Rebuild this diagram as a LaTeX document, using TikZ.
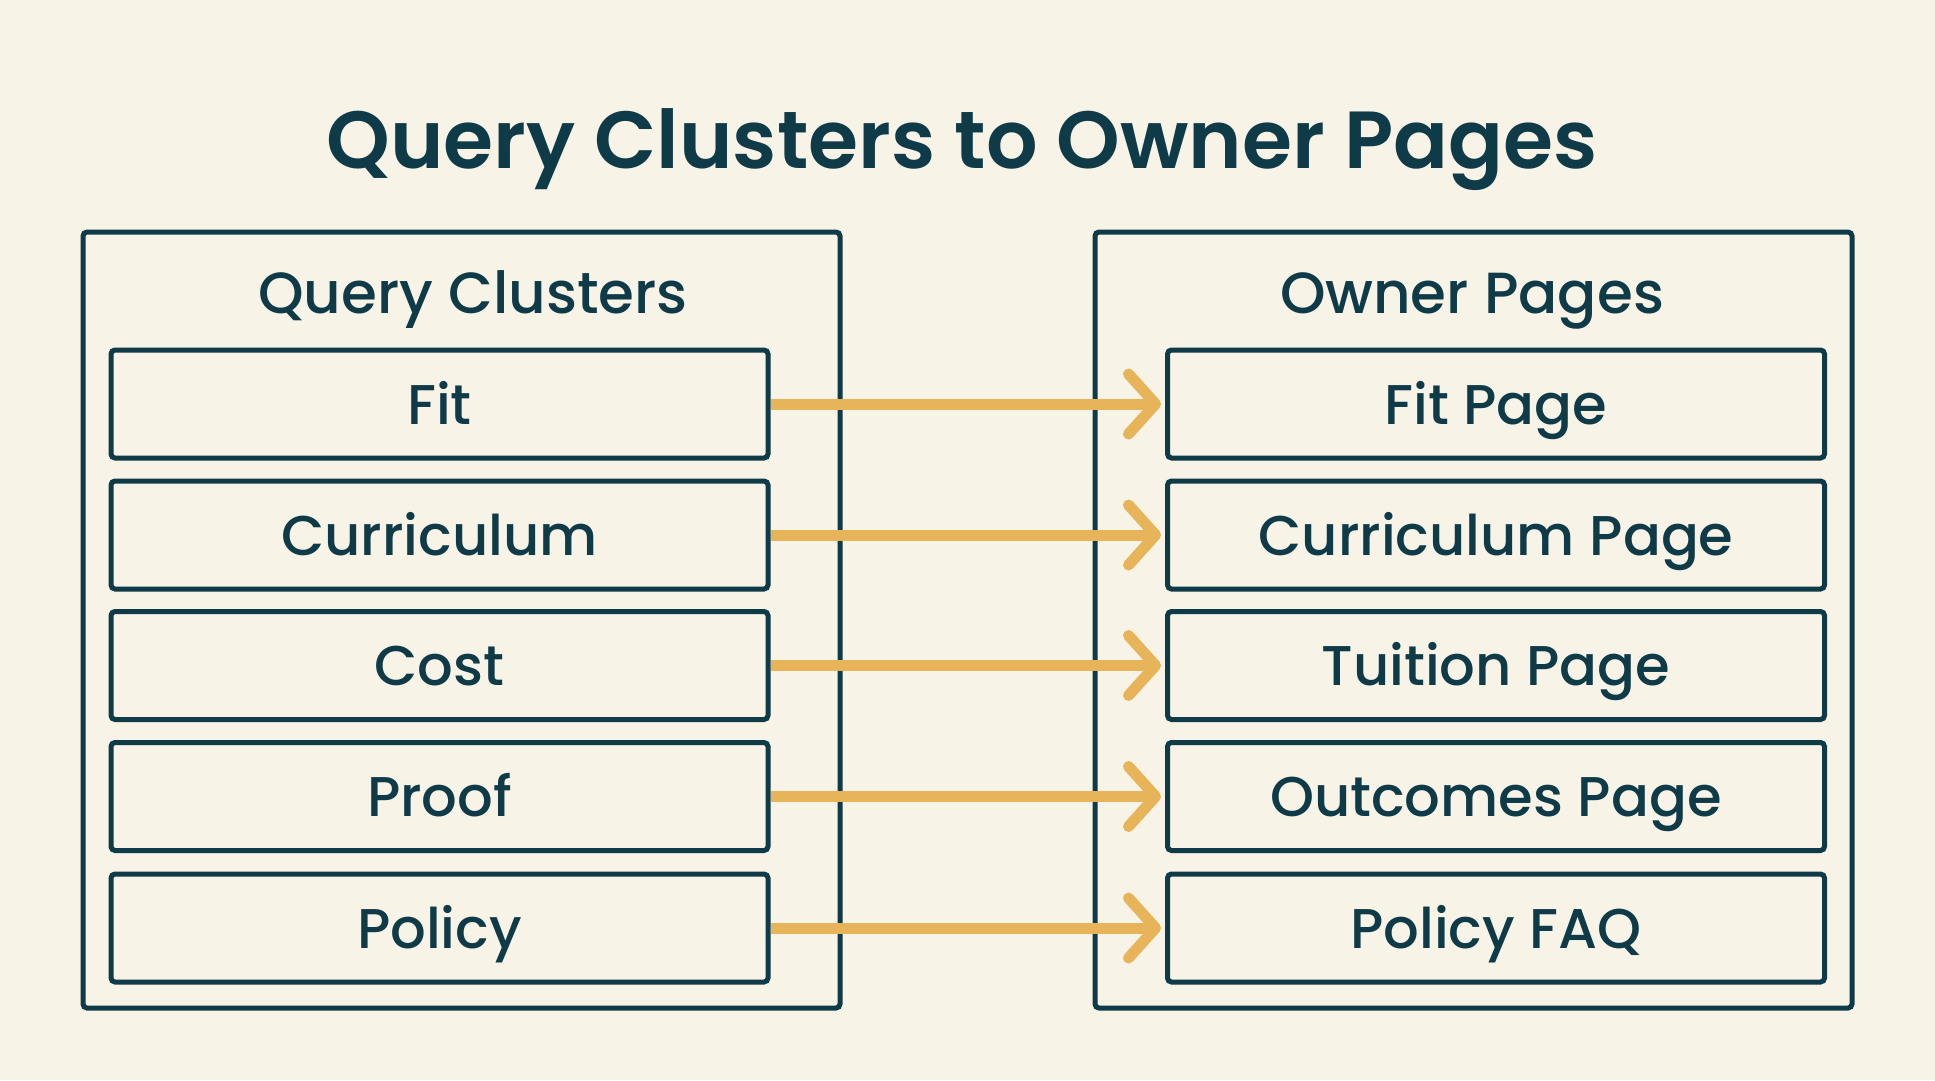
\documentclass[tikz,border=0pt]{standalone}
\usepackage{fontspec}
\IfFontExistsTF{Poppins Medium}{\setmainfont{Poppins Medium}}{\setmainfont{Poppins}}
\IfFontExistsTF{Poppins SemiBold}{\newfontfamily\titlefont{Poppins SemiBold}}{\newfontfamily\titlefont{Poppins}[UprightFont=*-Bold]}
\usetikzlibrary{arrows.meta}
\definecolor{bgc}{HTML}{F8F3E7}
\definecolor{ink}{HTML}{0F3A47}
\definecolor{amber}{HTML}{E8B45A}
\tikzset{
  outerbox/.style={draw=ink, line width=5pt, rounded corners=4pt, minimum width=757pt, minimum height=776pt, inner sep=0pt},
  itembox/.style={draw=ink, line width=5pt, rounded corners=4pt, minimum width=657pt, minimum height=108pt, inner sep=0pt, text=ink, font=\fontsize{56}{66}\selectfont, text height=40pt, text depth=0pt},
  headtext/.style={text=ink, font=\fontsize{58}{68}\selectfont, anchor=base},
  maparrow/.style={draw=amber, line width=11pt, -{Straight Barb[round, length=27pt, width=60pt, line width=11pt]}, shorten >=4pt, shorten <=0pt}
}
\begin{document}
\begin{tikzpicture}[x=1pt,y=-1pt]
\fill[bgc] (0,0) rectangle (1935,1080);
\useasboundingbox (0,0) rectangle (1935,1080);
\node[text=ink, font=\titlefont\fontsize{81}{93}\selectfont, anchor=base] (title) at (962,168) {Query Clusters to Owner Pages};
\node[outerbox] (lbox) at (461.5,620) {};
\node[outerbox] (rbox) at (1473.5,620) {};
\node[headtext] (lhead) at (473,313) {Query Clusters};
\node[headtext] (rhead) at (1472,313) {Owner Pages};
\node[itembox] (q1) at (439.5,404) {Fit};
\node[itembox] (q2) at (439.5,535) {Curriculum};
\node[itembox] (q3) at (439.5,665.5) {Cost};
\node[itembox] (q4) at (439.5,796.5) {Proof};
\node[itembox] (q5) at (439.5,928) {Policy};
\node[itembox] (p1) at (1496,404) {Fit Page};
\node[itembox] (p2) at (1496,535) {Curriculum Page};
\node[itembox] (p3) at (1496,665.5) {Tuition Page};
\node[itembox] (p4) at (1496,796.5) {Outcomes Page};
\node[itembox] (p5) at (1496,928) {Policy FAQ};
\foreach \i in {1,...,5}{
  \draw[maparrow] (q\i.east) -- (p\i.west);
}
\end{tikzpicture}
\end{document}
